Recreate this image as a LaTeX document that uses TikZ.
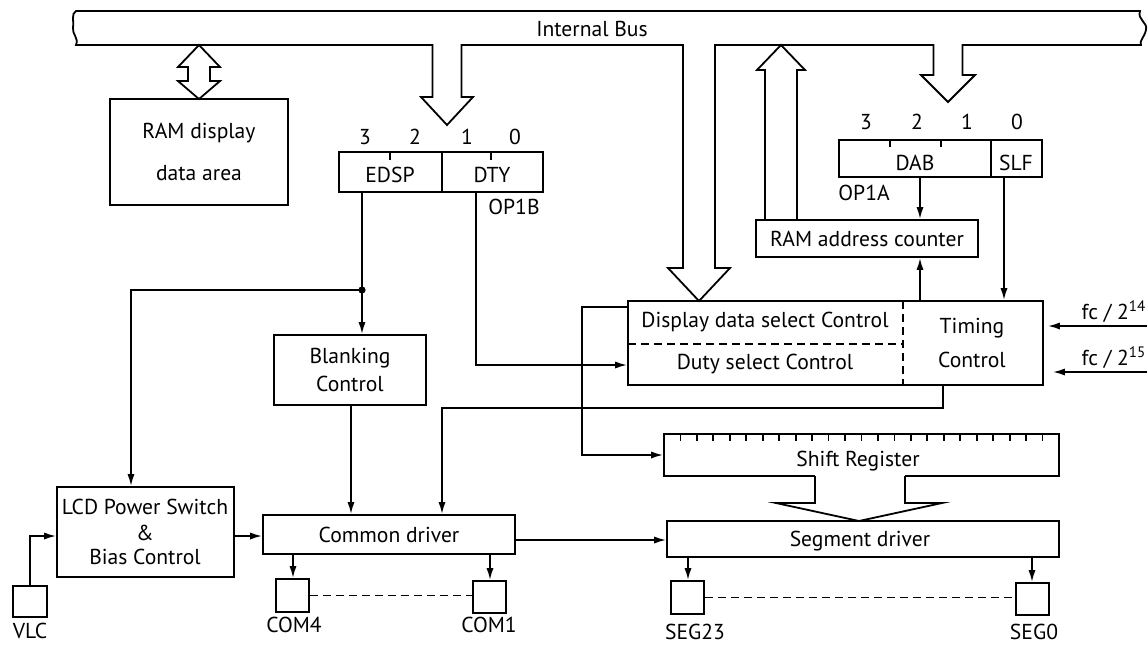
\documentclass[tikz,border=0pt]{standalone}
\usepackage{fontspec}
\setmainfont{PT Sans}
\usetikzlibrary{arrows.meta,fit}
\newcommand{\fatdn}[6]{%
  \fill[white] ({#1-#2},{#4-2}) rectangle ({#1+#2},#5);
  \draw[fat] ({#1-#2},{#4-1}) -- ({#1-#2},#5) -- ({#1-#3},#5) -- (#1,#6) -- ({#1+#3},#5) -- ({#1+#2},#5) -- ({#1+#2},{#4-1});
}
\begin{document}
\begin{tikzpicture}[x=0.5pt,y=-0.5pt,
  box/.style={draw,line width=0.9pt,inner sep=0pt,fill=white},
  txt/.style={font=\fontsize{10.8}{13}\selectfont,inner sep=0pt},
  arr/.style={line width=0.9pt,-{Latex[length=6pt,width=3.6pt]}},
  wire/.style={line width=0.9pt},
  fat/.style={line width=0.9pt,line join=miter},
  dsh/.style={line width=0.9pt,dash pattern=on 4pt off 2.5pt},
]
\useasboundingbox (0,0) rectangle (1148,645);

% ---------- Internal bus ----------
\draw[fat,fill=white] (76,11) -- (1140,11)
  .. controls (1137,20) and (1148,22) .. (1146,30)
  .. controls (1144,38) and (1139,41) .. (1141,45) -- (76,45)
  .. controls (79,38) and (72,34) .. (73,28)
  .. controls (74,20) and (71,14) .. (76,11) -- cycle;
\node[txt] (bustxt) at (592,29) {Internal Bus};

% ---------- boxes ----------
\node[box,fit={(110,99)(288,205)}] (ram) {};
\node[txt] (ramt1) at (199,133) {RAM display};
\node[txt] (ramt2) at (199,173) {data area};

\node[box,fit={(339,152)(442,192)}] (edsp) {};
\node[box,fit={(442,152)(543,192)}] (dty) {};
\draw[wire] (390,152) -- (390,160);
\draw[wire] (491,152) -- (491,160);
\node[txt] (b13) at (365,137) {3};
\node[txt] (b12) at (415,137) {2};
\node[txt] (b11) at (467,137) {1};
\node[txt] (b10) at (515,137) {0};
\node[txt] (edspt) at (390,175) {EDSP};
\node[txt] (dtyt) at (492,175) {DTY};
\node[txt] (op1bt) at (514,207) {OP1B};

\node[box,fit={(839,140)(991,177)}] (dab) {};
\node[box,fit={(991,140)(1042,177)}] (slf) {};
\draw[wire] (890,140) -- (890,147);
\draw[wire] (941,140) -- (941,147);
\node[txt] (a3) at (866,122) {3};
\node[txt] (a2) at (917,122) {2};
\node[txt] (a1) at (967,122) {1};
\node[txt] (a0) at (1017,122) {0};
\node[txt] (dabt) at (915,163) {DAB};
\node[txt] (slft) at (1016,163) {SLF};
\node[txt,anchor=west] (op1at) at (838,193) {OP1A};

\node[box,fit={(756,220)(978,257)}] (ramc) {};
\node[txt] (ramct) at (867,239) {RAM address counter};

\node[box,fit={(628,301)(1043,385)}] (ctrl) {};
\draw[dsh] (903,301) -- (903,385);
\draw[dsh] (628,344) -- (903,344);
\node[txt] (dispt) at (765,322) {Display data select Control};
\node[txt] (dutyt) at (765,364) {Duty select Control};
\node[txt] (timt1) at (972,328) {Timing};
\node[txt] (timt2) at (972,360) {Control};

\node[txt] (fc14) at (1114,312) {fc / 2\textsuperscript{14}};
\node[txt] (fc15) at (1114,358) {fc / 2\textsuperscript{15}};

\node[box,fit={(274,335)(426,405)}] (blank) {};
\node[txt] (blt1) at (350,358) {Blanking};
\node[txt] (blt2) at (350,384) {Control};

\node[box,fit={(57,487)(234,577)}] (lcd) {};
\node[txt] (lcdt1) at (145,507) {LCD Power Switch};
\node[txt] (lcdt2) at (145,533) {\&};
\node[txt] (lcdt3) at (145,557) {Bias Control};

\node[box,fit={(263,515)(515,554)}] (comd) {};
\node[txt] (comdt) at (389,535) {Common driver};

\node[box,fit={(664,434)(1059,476)}] (shift) {};
\foreach \k in {1,...,23} \draw[wire] ({664+\k*16.458},434) -- ++(0,7);
\node[txt] (shiftt) at (858,461) {Shift Register};

\node[box,fit={(667,521)(1059,557)}] (seg) {};
\node[txt] (segt) at (860,541) {Segment driver};

\node[box,fit={(13,586)(47,617)}] (vlc) {};
\node[txt] (vlct) at (30,631) {VLC};
\node[box,fit={(276,579)(309,612)}] (com4) {};
\node[txt] (com4t) at (294,625) {COM4};
\node[box,fit={(473,581)(506,613)}] (com1) {};
\node[txt] (com1t) at (489,625) {COM1};
\node[box,fit={(671,581)(704,614)}] (seg23) {};
\node[txt] (seg23t) at (695,632) {SEG23};
\node[box,fit={(1016,583)(1049,615)}] (seg0) {};
\node[txt] (seg0t) at (1034,632) {SEG0};

% ---------- fat bus arrows ----------
% bus <-> RAM display data area
\draw[fat,fill=white] (188,67) -- (178,67) -- (199,45) -- (220,67) -- (210,67)
  -- (210,81) -- (220,81) -- (199,99) -- (178,81) -- (188,81) -- cycle;
% bus -> OP1B
\fatdn{447}{14.5}{26}{45}{97}{125}
% bus -> display data select control
\fatdn{699}{16}{31}{45}{268}{301}
% bus -> OP1A
\fatdn{948}{14.5}{27}{45}{75}{102}
% RAM address counter -> bus
\draw[fat] (765,220) -- (765,70) -- (757,70) -- (781,45) -- (805,70) -- (797,70) -- (797,220);
% shift register -> segment driver
\fill[white] (815,474) rectangle (905,503);
\draw[fat] (815,476) -- (815,503) -- (776,503) -- (859,521) -- (942,503) -- (905,503) -- (905,476);

% ---------- connectors ----------
\coordinate (jn) at (362,290);
\draw[wire] (edsp.south -| jn) -- (jn);
\fill (jn) circle[radius=1.8pt];
\draw[arr] (jn) -- (blank.north -| jn);
\coordinate (lx) at (131,0);
\draw[arr] (jn) -| (lcd.north -| lx);

\coordinate (dtyc) at (476,365);
\draw[arr] (dty.south -| dtyc) |- (ctrl.west |- dtyc);

\coordinate (dabx) at (920,0);
\draw[arr] (dab.south -| dabx) -- (ramc.north -| dabx);
\draw[arr] (ctrl.north -| dabx) -- (ramc.south -| dabx);
\coordinate (slfx) at (1004,0);
\draw[arr] (slf.south -| slfx) -- (ctrl.north -| slfx);

\coordinate (f14) at (1147,326);
\coordinate (f15) at (1147,372);
\draw[arr,shorten >=2pt] (f14) -- (ctrl.east |- f14);
\draw[arr,shorten >=4.5pt] (f15) -- (ctrl.east |- f15);

\coordinate (dl) at (582,307);
\draw[arr] (ctrl.west |- dl) -- (dl) |- (shift.west);

\coordinate (tb) at (943,408);
\coordinate (cx) at (442,0);
\draw[arr] (ctrl.south -| tb) -- (tb) -| (comd.north -| cx);

\coordinate (blx) at (351,0);
\draw[arr] (blank.south -| blx) -- (comd.north -| blx);

\coordinate (lc) at (0,536);
\draw[arr] (lcd.east |- lc) -- (comd.west |- lc);
\draw[arr] (vlc.north) |- (lcd.west |- lc);

\coordinate (c4x) at (293,0);
\coordinate (c1x) at (490,0);
\draw[arr] (comd.south -| c4x) -- (com4.north -| c4x);
\draw[arr] (comd.south -| c1x) -- (com1.north -| c1x);
\draw[dsh] (com4.east) -- (com1.west |- com4.east);

\coordinate (cs) at (0,540);
\draw[arr] (comd.east |- cs) -- (seg.west |- cs);

\coordinate (s23x) at (688,0);
\coordinate (s0x) at (1032,0);
\draw[arr] (seg.south -| s23x) -- (seg23.north -| s23x);
\draw[arr] (seg.south -| s0x) -- (seg0.north -| s0x);
\draw[dsh] (seg23.east) -- (seg0.west |- seg23.east);

\end{tikzpicture}
\end{document}
